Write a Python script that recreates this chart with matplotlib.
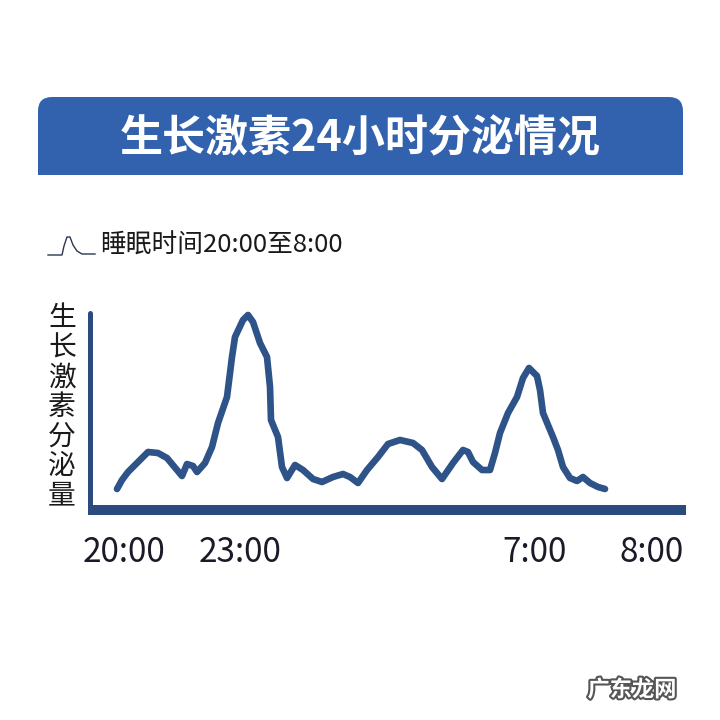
# coding: utf-8

import matplotlib.pyplot as plt
import matplotlib.patheffects as pe
from matplotlib.patches import FancyBboxPatch, Rectangle

plt.rcParams['font.family'] = ['Noto Sans CJK SC', 'DejaVu Sans']

# curve: position along the time axis and secretion level
pos = [117, 122, 128, 137, 148, 158, 167, 177, 182, 187, 193, 197, 205, 212,
       218, 227, 232, 235, 243, 248, 253, 260, 267, 270, 271, 278, 282, 287,
       295, 303, 313, 322, 333, 343, 350, 358, 367, 378, 388, 400, 413, 422,
       432, 442, 453, 463, 468, 473, 482, 490, 495, 500, 508, 517, 523, 529,
       537, 540, 543, 553, 558, 563, 570, 577, 583, 590, 598, 605]
level = [21, 30, 38, 47, 58, 57, 52, 40, 34, 46, 44, 38, 47, 63,
         87, 113, 153, 173, 190, 195, 188, 167, 153, 123, 90, 73, 43, 32,
         45, 40, 31, 28, 33, 36, 33, 27, 40, 53, 66, 70, 67, 60,
         43, 31, 47, 60, 58, 48, 40, 40, 57, 77, 97, 113, 132, 142,
         134, 120, 97, 73, 60, 43, 32, 29, 33, 27, 23, 21]

tick_pos = [124, 240, 535, 652]
tick_labels = ['20:00', '23:00', '7:00', '8:00']

title = '生长激素24小时分泌情况'
legend_text = '睡眠时间20:00至8:00'
ylabel = '生长激素分泌量'

navy = '#2b4a7d'
curve_color = '#2d5389'
banner_color = '#3262ad'

fig = plt.figure(figsize=(7.2, 7.2), dpi=100)
fig.patch.set_facecolor('white')

# overlay in pixel units for the decorations
deco = fig.add_axes([0, 0, 1, 1])
deco.set_xlim(0, 720)
deco.set_ylim(720, 0)
deco.axis('off')

banner = FancyBboxPatch((38, 97), 645, 78, boxstyle='round,pad=0,rounding_size=14',
                        facecolor=banner_color, edgecolor='none')
deco.add_patch(banner)
deco.add_patch(Rectangle((38, 140), 645, 35, facecolor=banner_color, edgecolor='none'))
deco.text(360, 138, title, color='white', fontsize=31, fontweight='bold',
          ha='center', va='center')

# small legend glyph
icon_x = [48, 62, 64, 67, 70, 73, 77, 82, 95]
icon_y = [255, 255, 246, 237, 237, 245, 251, 254, 254]
deco.plot(icon_x, icon_y, color='#2a3550', lw=1.0)
deco.text(100, 246, legend_text, color='#1a1a1a', fontsize=18.5,
          ha='left', va='center')

deco.text(62, 407, '\n'.join(ylabel), color='#1a1a1a', fontsize=20,
          ha='center', va='center', linespacing=0.98)

deco.text(632, 690, '广东龙网', color='white', fontsize=16, fontweight='bold',
          ha='center', va='center', style='italic',
          path_effects=[pe.withStroke(linewidth=3, foreground='#555555')])

# main chart
ax = fig.add_axes([89.5/720, (720-510)/720, (686-89.5)/720, (510-313)/720])
ax.set_xlim(89.5, 686)
ax.set_ylim(0, 197)
ax.patch.set_alpha(0)
ax.plot(pos, level, color=curve_color, lw=4.8, solid_capstyle='round',
        solid_joinstyle='round', clip_on=False)

for side in ['top', 'right']:
    ax.spines[side].set_visible(False)
ax.spines['left'].set_linewidth(3.6)
ax.spines['bottom'].set_linewidth(7.2)
ax.spines['left'].set_color(navy)
ax.spines['bottom'].set_color(navy)
ax.spines['left'].set_capstyle('round')
ax.spines['bottom'].set_capstyle('butt')
ax.spines['bottom'].set_bounds(87.5, 686)

ax.set_yticks([])
ax.set_xticks(tick_pos)
ax.set_xticklabels(tick_labels, fontsize=24, color='#1a1a28')
ax.tick_params(axis='x', length=0, pad=18)

fig.savefig('out.png', dpi=100, facecolor='white')
